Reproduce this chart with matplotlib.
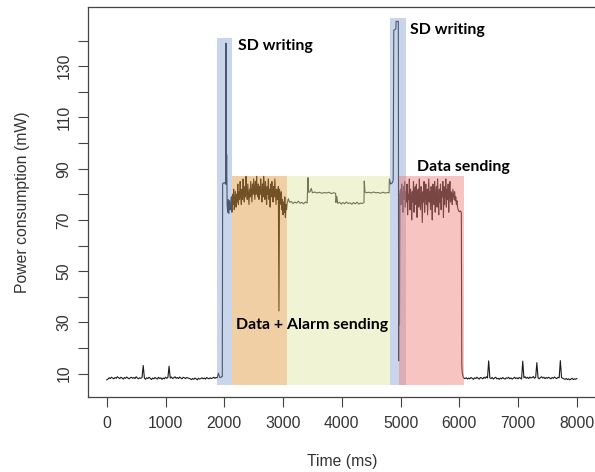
import numpy as np
import matplotlib.pyplot as plt
from matplotlib.patches import Rectangle

# idle before the first SD write, one sample every 20 ms from 0 ms (mW)
idle_start_mw = [
    7.6, 7.9, 8.4, 8.1, 8.6, 8.3, 8.0, 8.5, 8.2, 8.8,
    8.4, 8.1, 8.6, 8.3, 7.9, 8.5, 8.2, 8.7, 8.3, 8.0,
    8.4, 8.6, 8.2, 8.5, 8.1, 8.8, 8.3, 8.0, 8.4, 8.2,
    8.5, 13.2, 8.3, 7.8, 8.4, 8.1, 8.6, 8.2, 7.7, 8.3,
    8.0, 8.5, 8.2, 7.9, 8.6, 8.1, 8.4, 7.8, 8.3, 8.0,
    8.6, 8.2, 8.5, 12.9, 8.3, 8.7, 8.1, 8.4, 8.8, 8.2,
    8.5, 8.1, 8.7, 8.3, 8.0, 8.6, 8.4, 8.1, 8.5, 8.3,
    8.2, 8.0, 7.7, 8.1, 7.8, 8.3, 8.0, 7.6, 8.2, 7.9,
    8.1, 8.4, 8.0, 8.3, 7.9, 8.5, 8.2, 8.0, 8.4, 8.1,
    8.3, 8.6, 8.2, 8.5, 8.4, 10.2, 8.6, 8.5, 8.9]

# first SD write
sd1_ms = [1966, 1972, 2000, 2022, 2028, 2034, 2040, 2048, 2058, 2068, 2078, 2090, 2100]
sd1_mw = [8.9, 84.2, 84.6, 84.0, 139.0, 84.0, 95.5, 76.0, 73.0, 78.0, 72.5, 77.5, 74.0]

# data + alarm sending, one sample every 10 ms from 2110 ms
alarm_mw = [
    75, 79, 73, 80, 76, 82, 74, 78, 81, 75,
    80, 77, 84, 76, 81, 78, 85, 79, 76, 82,
    78, 86, 80, 77, 83, 79, 87, 81, 78, 84,
    80, 76, 82, 79, 85, 81, 77, 84, 80, 86,
    82, 78, 85, 80, 87, 81, 79, 84, 78, 83,
    80, 86, 81, 77, 84, 79, 87, 82, 78, 85,
    81, 76, 83, 80, 86, 78, 82, 75, 84, 79,
    85, 80, 77, 83, 79, 86, 81, 76, 82, 78,
    80, 83, 34.5, 82, 79, 76, 81, 74, 78, 72,
    77, 73, 79, 71, 76, 74]

# waiting between alarm and second write
wait_ms = [3070, 3090, 3110, 3140, 3170, 3200, 3230, 3260, 3290, 3320, 3350, 3380, 3410,
           3425, 3435, 3460, 3480, 3500, 3540, 3580, 3620, 3660, 3700, 3740, 3780, 3820,
           3860, 3895, 3900, 3915, 3930, 3960, 3990, 4020, 4050, 4080, 4110, 4140, 4170,
           4200, 4230, 4260, 4290, 4320, 4350, 4378, 4382, 4395, 4420, 4460, 4500, 4540,
           4580, 4620, 4660, 4700, 4740, 4780, 4805, 4810, 4830]
wait_mw = [76.5, 78.3, 76.9, 77.2, 76.4, 77.0, 76.6, 77.3, 76.5, 76.9, 76.3, 77.0, 76.6,
           86.5, 80.8, 81.0, 82.3, 80.6, 80.9, 80.5, 80.8, 80.4, 80.7, 80.5, 80.8, 80.3,
           80.6, 80.4, 76.8, 79.2, 76.5, 76.9, 76.2, 76.8, 76.3, 77.0, 76.4, 76.7, 76.1,
           76.8, 76.3, 76.9, 76.2, 76.6, 76.4, 76.8, 85.2, 80.9, 80.6, 80.8, 80.5, 80.9,
           80.6, 80.7, 80.4, 80.8, 80.5, 80.7, 80.6, 86.0, 84.0]

# second SD write
sd2_ms = [4860, 4875, 4885, 4920, 4925, 4962, 4968, 4975, 4982, 4990]
sd2_mw = [84.5, 85.5, 144.0, 144.5, 147.5, 147.5, 15.0, 80.0, 29.0, 81.0]

# data sending, one sample every 10 ms from 5000 ms
send_mw = [
    82, 76, 84, 79, 73, 83, 78, 85, 75, 81,
    77, 84, 72, 80, 78, 86, 74, 82, 79, 70,
    81, 77, 85, 73, 80, 83, 76, 84, 71, 79,
    82, 75, 86, 78, 74, 83, 80, 69, 81, 77,
    85, 73, 80, 84, 76, 82, 72, 79, 86, 77,
    81, 74, 83, 78, 70, 84, 79, 76, 85, 73,
    80, 83, 75, 86, 78, 72, 82, 77, 84, 74,
    81, 79, 85, 71, 83, 76, 80, 86, 75, 82,
    78, 84, 73, 80, 85, 77, 81, 79, 76, 82,
    80, 78, 81, 77.5, 79, 76, 77.5, 75, 74, 73.5]

# back to idle
drop_ms = [6000, 6020, 6035, 6042, 6050, 6065, 6080]
drop_mw = [73.2, 73.5, 72.8, 13.5, 10.5, 8.8, 8.2]

# idle after sending, one sample every 20 ms from 6100 ms
idle_end_mw = [
    8.1, 8.4, 7.9, 8.3, 8.0, 8.5, 8.2, 7.8, 8.4, 8.1,
    8.6, 8.2, 7.9, 8.5, 8.3, 8.0, 8.6, 8.2, 8.8, 8.3,
    15.0, 8.4, 8.1, 8.5, 7.9, 8.3, 8.6, 8.0, 8.2, 7.8,
    8.3, 8.0, 8.5, 8.1, 7.9, 8.4, 8.2, 8.6, 8.0, 8.3,
    7.9, 8.2, 8.6, 8.1, 8.4, 8.0, 8.5, 8.3, 7.9, 14.9,
    8.4, 8.8, 8.2, 8.6, 8.1, 8.7, 8.3, 8.5, 8.9, 8.2,
    8.6, 14.3, 8.4, 8.0, 8.5, 8.8, 8.3, 8.6, 8.1, 8.5,
    8.2, 8.6, 8.3, 8.0, 8.5, 8.2, 8.7, 8.3, 8.1, 8.6,
    8.4, 15.1, 8.5, 8.2, 8.0, 7.8, 8.1, 7.7, 8.0, 7.6,
    7.9, 8.2, 7.7, 8.0, 7.8, 8.1]

# shaded phases: start (ms), end (ms), top (mW)
phase_start = [2130, 3064, 1872, 4822, 4974]
phase_end = [3064, 4822, 2130, 5100, 6080]
phase_top = [87.1, 87.1, 141.0, 148.7, 87.1]
phase_colors = ['#e09537', '#dee5a1', '#85a2d1', '#85a2d1', '#f07c78']

time = np.concatenate([
    np.arange(len(idle_start_mw)) * 20,
    sd1_ms,
    2110 + np.arange(len(alarm_mw)) * 10,
    wait_ms,
    sd2_ms,
    5000 + np.arange(len(send_mw)) * 10,
    drop_ms,
    6100 + np.arange(len(idle_end_mw)) * 20])
power = np.concatenate([idle_start_mw, sd1_mw, alarm_mw, wait_mw, sd2_mw,
                        send_mw, drop_mw, idle_end_mw])

plt.rcParams['font.family'] = ['Liberation Sans', 'DejaVu Sans']

fig = plt.figure(figsize=(5.95, 4.72), dpi=100)
ax = fig.add_axes([88 / 595, 75 / 472, 507.6 / 595, 390 / 472])

ax.plot(time, power, color='#1a1a1a', lw=0.8, zorder=2)

for s, e, top, c in zip(phase_start, phase_end, phase_top, phase_colors):
    ax.add_patch(Rectangle((s, 5.6), e - s, top - 5.6, facecolor=c,
                           edgecolor='none', alpha=0.45, zorder=3))

ax.set_xlim(-320, 8320)
ax.set_ylim(0.9, 153.1)

ax.set_xticks(range(0, 8001, 1000))
yt = list(range(10, 141, 10))
ax.set_yticks(yt)
ax.set_yticklabels([str(v) if v % 20 == 10 else '' for v in yt])
ax.tick_params(axis='y', labelrotation=90)
for lab in ax.get_yticklabels():
    lab.set_va('center')
ax.tick_params(length=7, width=0.8, color='#444444', labelsize=11.3,
               labelcolor='#333333', pad=7)
ax.tick_params(axis='y', pad=5)

for side in ['left', 'top', 'bottom']:
    ax.spines[side].set_color('#444444')
    ax.spines[side].set_linewidth(0.9)
ax.spines['right'].set_visible(False)

ax.set_xlabel('Time (ms)', fontsize=11.3, color='#333333')
ax.set_ylabel('Power consumption (mW)', fontsize=11.3, color='#333333')
ax.xaxis.set_label_coords(0.5, -0.147)
ax.yaxis.set_label_coords(-0.115, 0.5)

note = dict(fontsize=11.4, fontweight='bold', family=['Lato', 'DejaVu Sans'],
            ha='left', va='baseline', color='black', zorder=5)
ax.text(2230, 136.2, 'SD writing', **note)
ax.text(5163, 142.5, 'SD writing', **note)
ax.text(5288, 89.2, 'Data sending', **note)
ax.text(2196, 27.5, 'Data + Alarm sending', **note)

fig.savefig('out.png', dpi=100)
